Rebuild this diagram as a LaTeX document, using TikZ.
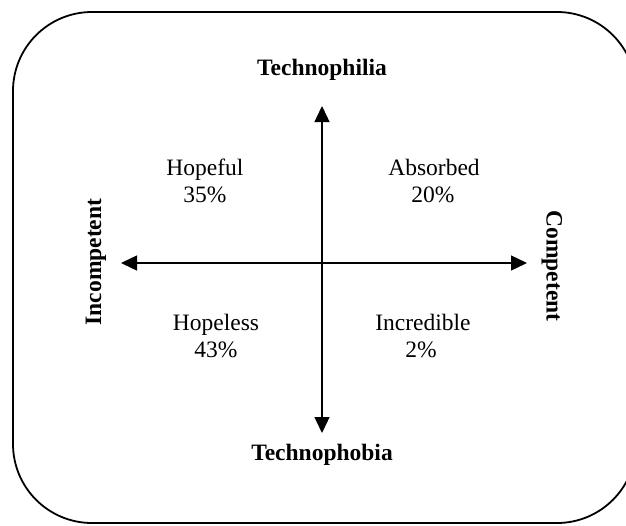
\documentclass[tikz,border=0pt]{standalone}
\usepackage{fontspec}
\setmainfont{Liberation Serif}
\usetikzlibrary{arrows.meta}

\tikzset{
  axis/.style={line width=1.3pt,
    {Triangle[length=16pt,width=15pt]}-{Triangle[length=16pt,width=15pt]}},
  axislabel/.style={font=\bfseries\fontsize{23.5}{28}\selectfont, inner sep=0pt, anchor=base},
  quadrant/.style={font=\fontsize{23.5}{28}\selectfont, inner sep=0pt, anchor=base}
}

\begin{document}
\begin{tikzpicture}[x=1pt,y=-1pt]
  \useasboundingbox (0,0) rectangle (626,525);
  \clip (0,0) rectangle (626,525);

  % frame
  \draw[line width=1.8pt, rounded corners=79pt] (13,12) rectangle (636,523);

  % axis labels
  \node[axislabel] (philia) at (322,75) {Technophilia};
  \node[axislabel] (phobia) at (322,460) {Technophobia};
  \node[axislabel, anchor=center, rotate=90] (incomp) at (96,262) {Incompetent};
  \node[axislabel, anchor=center, rotate=-90] (comp) at (552,266) {Competent};

  % axis ends
  \coordinate (top) at (322,106);
  \coordinate (bottom) at (322,433);
  \coordinate (left) at (121,263);
  \coordinate (right) at (527,263);

  \draw[axis] (bottom) -- (top);
  \draw[axis] (left) -- (right);

  % quadrants
  \node[quadrant] (hopeful) at (205,175) {Hopeful};
  \node[quadrant] (hopefulpct) at (205,202) {35\%};
  \node[quadrant] (absorbed) at (434,175) {Absorbed};
  \node[quadrant] (absorbedpct) at (433,202) {20\%};
  \node[quadrant] (hopeless) at (216,330) {Hopeless};
  \node[quadrant] (hopelesspct) at (216,357) {43\%};
  \node[quadrant] (incredible) at (423,330) {Incredible};
  \node[quadrant] (incrediblepct) at (421,357) {2\%};
\end{tikzpicture}
\end{document}
